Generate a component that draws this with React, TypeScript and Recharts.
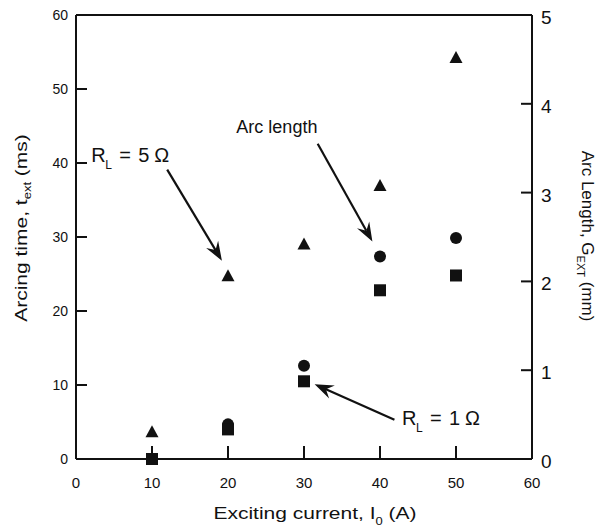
import React from "react";
import { ScatterChart, Scatter, XAxis, YAxis, ReferenceLine, ReferenceDot } from "recharts";

// Exciting current I0 (A)
const currents = [10, 20, 30, 40, 50];
// Arcing time (ms), R_L = 5 ohm (triangles)
const timeR5 = [3.6, 24.7, 29.0, 36.9, 54.2];
// Arcing time (ms), R_L = 1 ohm (squares)
const timeR1 = [0, 4.0, 10.5, 22.8, 24.8];
// Arc length (mm), circles
const arcCurrents = [20, 30, 40, 50];
const arcLength = [0.39, 1.05, 2.28, 2.49];

const xTicks = [0, 10, 20, 30, 40, 50, 60];
const msTicks = [0, 10, 20, 30, 40, 50, 60];
const mmTicks = [0, 1, 2, 3, 4, 5];

const FONT = "'Liberation Sans', Arial, sans-serif";
const INK = "#111";

const r5Data = currents.map((x, i) => ({ x, y: timeR5[i] }));
const r1Data = currents.map((x, i) => ({ x, y: timeR1[i] }));
const arcData = arcCurrents.map((x, i) => ({ x, y: arcLength[i] }));

// annotation arrows, in data units (ms axis)
const arrows = [
  { from: { x: 12.0, y: 39.1 }, to: { x: 19.2, y: 26.8 } },
  { from: { x: 31.8, y: 42.6 }, to: { x: 39.0, y: 29.4 } },
  { from: { x: 41.9, y: 5.3 }, to: { x: 31.4, y: 10.1 } },
];

const Triangle = (p: any) => (
  <polygon
    points={`${p.cx},${p.cy - 7} ${p.cx + 6.5},${p.cy + 5} ${p.cx - 6.5},${p.cy + 5}`}
    fill={INK}
  />
);
const Square = (p: any) => <rect x={p.cx - 6} y={p.cy - 6} width={12} height={12} fill={INK} />;
const Dot = (p: any) => <circle cx={p.cx} cy={p.cy} r={6} fill={INK} />;

const Arrow = (p: any) => {
  const { x1, y1, x2, y2 } = p;
  const a = Math.atan2(y2 - y1, x2 - x1);
  const c = Math.cos(a);
  const s = Math.sin(a);
  const L = 19;
  const W = 7;
  const bx = x2 - L * c;
  const by = y2 - L * s;
  const nx = x2 - L * 0.65 * c;
  const ny = y2 - L * 0.65 * s;
  return (
    <g>
      <line x1={x1} y1={y1} x2={nx} y2={ny} stroke={INK} strokeWidth={2.2} />
      <polygon
        points={`${x2},${y2} ${bx - W * s},${by + W * c} ${nx},${ny} ${bx + W * s},${by - W * c}`}
        fill={INK}
      />
    </g>
  );
};

const LeftTick = (p: any) => {
  const { x, y, payload } = p;
  return (
    <g>
      <line x1={x} x2={x + 11} y1={y} y2={y} stroke={INK} strokeWidth={2} />
      <text x={x - 8} y={y + 5} textAnchor="end" fontSize={14} fontFamily={FONT} fill={INK}>
        {payload.value}
      </text>
    </g>
  );
};

const RightTick = (p: any) => {
  const { x, y, payload } = p;
  return (
    <g>
      <line x1={x} x2={x - 11} y1={y} y2={y} stroke={INK} strokeWidth={2} />
      <text x={x + 9} y={y + 9} textAnchor="start" fontSize={19} fontFamily={FONT} fill={INK}>
        {payload.value}
      </text>
    </g>
  );
};

const BottomTick = (p: any) => {
  const { x, y, payload } = p;
  return (
    <g>
      <line x1={x} x2={x} y1={y} y2={y - 13} stroke={INK} strokeWidth={2} />
      <text x={x} y={y + 29} textAnchor="middle" fontSize={15} fontFamily={FONT} fill={INK}>
        {payload.value}
      </text>
    </g>
  );
};

const LeftTitle = ({ viewBox }: any) => {
  const vb = viewBox ?? { x: 16, y: 15, width: 60, height: 444 };
  const cx = vb.x + 11;
  const cy = 228;
  return (
    <text
      transform={`translate(${cx},${cy}) rotate(-90) scale(1,0.8)`}
      textAnchor="middle"
      fontSize={21}
      fontFamily={FONT}
      fill={INK}
    >
      Arcing time, t<tspan fontSize={13} dy={5}>ext</tspan>
      <tspan dy={-5}> (ms)</tspan>
    </text>
  );
};

const RightTitle = ({ viewBox }: any) => {
  const vb = viewBox ?? { x: 532, y: 15, width: 60, height: 444 };
  const cx = vb.x + 50;
  const cy = 236;
  return (
    <text
      transform={`translate(${cx},${cy}) rotate(90)`}
      textAnchor="middle"
      fontSize={17}
      fontFamily={FONT}
      fill={INK}
    >
      Arc Length, G<tspan fontSize={11} dy={5}>EXT</tspan>
      <tspan dy={-5}> (mm)</tspan>
    </text>
  );
};

const BottomTitle = ({ viewBox }: any) => {
  const vb = viewBox ?? { x: 76, y: 459, width: 456, height: 40 };
  return (
    <text
      transform={`translate(${vb.x + vb.width / 2 + 11},${vb.y + 60}) scale(1,0.8)`}
      textAnchor="middle"
      fontSize={21}
      fontFamily={FONT}
      fill={INK}
    >
      Exciting current, I<tspan fontSize={13} dy={7}>0</tspan>
      <tspan dy={-7}> (A)</tspan>
    </text>
  );
};

const RLabel = (value: string) => (p: any) => (
  <text y={p.cy} fontSize={20} fontFamily={FONT} fill={INK}>
    <tspan x={p.cx}>R</tspan>
    <tspan x={p.cx + 14} dy={7} fontSize={12}>L</tspan>
    <tspan x={p.cx + 28} dy={-7}>=</tspan>
    <tspan x={p.cx + 47}>{value}</tspan>
    <tspan x={p.cx + 63}>Ω</tspan>
  </text>
);

const ArcLabel = (p: any) => (
  <text x={p.cx} y={p.cy} fontSize={18} fontFamily={FONT} fill={INK}>
    Arc length
  </text>
);

export default function App() {
  return (
    <div style={{ position: "absolute", left: 0, top: 0, background: "#fff" }}>
      <ScatterChart width={602} height={532} margin={{ top: 15, right: 10, bottom: 33, left: 16 }}>
        <XAxis
          type="number"
          dataKey="x"
          domain={[0, 60]}
          ticks={xTicks}
          height={40}
          tickSize={0}
          tickMargin={0}
          axisLine={{ stroke: INK, strokeWidth: 2 }}
          tickLine={false}
          tick={<BottomTick />}
          label={<BottomTitle />}
        />
        <YAxis
          yAxisId="ms"
          type="number"
          dataKey="y"
          domain={[0, 60]}
          ticks={msTicks}
          width={60}
          tickSize={0}
          tickMargin={0}
          axisLine={{ stroke: INK, strokeWidth: 2 }}
          tickLine={false}
          tick={<LeftTick />}
          label={<LeftTitle />}
        />
        <YAxis
          yAxisId="mm"
          orientation="right"
          type="number"
          dataKey="y"
          domain={[0, 5]}
          ticks={mmTicks}
          width={60}
          tickSize={0}
          tickMargin={0}
          axisLine={{ stroke: INK, strokeWidth: 2 }}
          tickLine={false}
          tick={<RightTick />}
          label={<RightTitle />}
        />
        <ReferenceLine yAxisId="ms" y={60} stroke={INK} strokeWidth={2} />
        {arrows.map((a, i) => (
          <ReferenceLine key={i} yAxisId="ms" segment={[a.from, a.to]} shape={Arrow} />
        ))}
        <ReferenceDot yAxisId="ms" x={2.0} y={40.2} r={0} shape={RLabel("5")} />
        <ReferenceDot yAxisId="ms" x={21.1} y={44.0} r={0} shape={ArcLabel} />
        <ReferenceDot yAxisId="ms" x={42.9} y={4.6} r={0} shape={RLabel("1")} />
        <Scatter yAxisId="ms" data={r5Data} shape={Triangle} isAnimationActive={false} />
        <Scatter yAxisId="mm" data={arcData} shape={Dot} isAnimationActive={false} />
        <Scatter yAxisId="ms" data={r1Data} shape={Square} isAnimationActive={false} />
      </ScatterChart>
    </div>
  );
}
